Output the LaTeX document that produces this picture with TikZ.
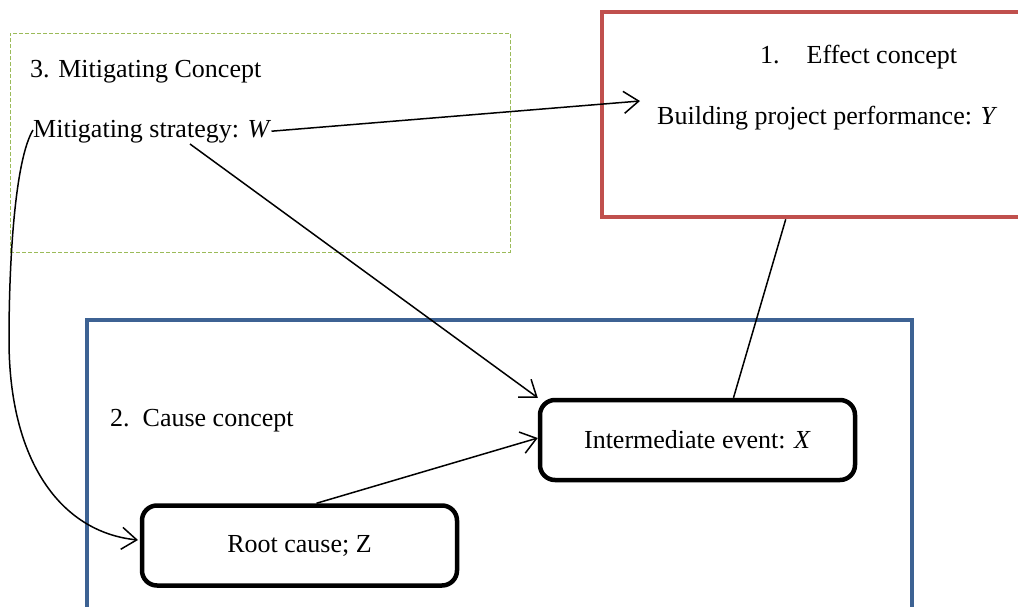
\documentclass[tikz,border=0pt]{standalone}
\usepackage{fontspec}
\setmainfont{Liberation Serif}
\usetikzlibrary{arrows.meta,calc}
\definecolor{effectred}{HTML}{C0504D}
\definecolor{causeblue}{HTML}{3D6293}
\definecolor{mitgreen}{HTML}{9BBB59}
\tikzset{
  label text/.style={inner sep=0pt, font=\fontsize{26}{30}\selectfont},
  frame/.style={inner sep=0pt, line width=4.5pt},
  eventbox/.style={draw=black, line width=4.5pt, rounded corners=15pt, inner sep=0pt,
    minimum width=315pt, minimum height=80pt, font=\fontsize{26}{30}\selectfont},
  link/.style={line width=1.5pt, -{Straight Barb[length=15pt,width=22pt,line width=1.5pt]}},
  plain link/.style={line width=1.5pt}
}
\begin{document}
\begin{tikzpicture}[x=1pt,y=-1pt]
\useasboundingbox (0,0) rectangle (1018,606);
\fill[white] (0,0) rectangle (1018,606);

% the three concept frames
\node[frame, draw=mitgreen, line width=1pt, dash pattern=on 4pt off 2pt,
      minimum width=500pt, minimum height=219pt] (mitigating) at (260,142.5) {};
\node[frame, draw=effectred, minimum width=430pt, minimum height=205pt] (effect) at (817,114.5) {};
\node[frame, draw=causeblue, minimum width=825pt, minimum height=300pt] (cause) at (499.5,470) {};

% frame titles and variables
\node[label text, anchor=base west] (mtitle) at (30,77) {3. Mitigating Concept};
\node[label text, anchor=base west] (wtext) at (33,137) {Mitigating strategy: \textit{W}};
\node[label text, anchor=base west] (etitle) at (760,63) {1.\hspace{27pt}Effect concept};
\node[label text, anchor=base west] (ytext) at (657,124) {Building project performance: \textit{Y}};
\node[label text, anchor=base west] (ctitle) at (110,426) {2.\hspace{13pt}Cause concept};

% event boxes
\node[eventbox] (inter) at (697.5,440) {Intermediate event: \textit{X}};
\node[eventbox] (root) at (299.5,545.5) {Root cause; Z};

% free ends of connectors
\coordinate (ytip) at (640,101);
\coordinate (wmid) at (190,144);
\coordinate (wleft) at (33,130);
\coordinate (rootin) at (138,540);

% connectors
\draw[link] (wtext.east) -- (ytip);
\draw[link] (wmid) -- (inter.north west);
\draw[link] ($(root.north)+(17,0)$) -- ($(inter.west)+(0,-2)$);
\draw[plain link] ($(inter.north)+(36,0)$) -- ($(effect.south west)+(186,0)$);
\draw[link] (wleft) .. controls (15,160) and (9,260) .. (9,340)
  .. controls (9,460) and (60,532) .. (rootin);
\end{tikzpicture}
\end{document}
